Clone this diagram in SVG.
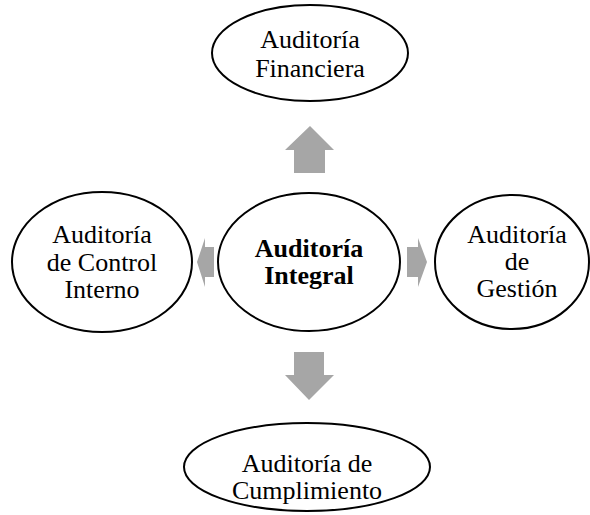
<svg xmlns="http://www.w3.org/2000/svg" width="590" height="515" viewBox="0 0 590 515" font-family="'Liberation Serif', 'Times New Roman', serif">
<style>
.node ellipse{fill:#fff;stroke:#000;stroke-width:2}
.node text{font-family:'Liberation Serif','Times New Roman',serif;font-size:26px;fill:#000;text-anchor:middle}
.node text.b{font-weight:bold}
.arrow{fill:#a6a6a6}
</style>
<rect width="590" height="515" fill="#fff"/>
<g id="connectors">
<polygon class="arrow" points="310,126 334,150 325,150 325,173 294,173 294,150 285,150"/>
<polygon class="arrow" points="309,400 334,375 324,375 324,352 294,352 294,375 285,375"/>
<polygon class="arrow" points="197,262 205,238 205,247 214,247 214,277 205,277 205,287"/>
<polygon class="arrow" points="427,262 418,238 418,247 407,247 407,277 418,277 418,287"/>
</g>
<g id="node-top" class="node">
<ellipse cx="310" cy="53" rx="98" ry="48"/>
<text x="310" y="48">Auditoría</text>
<text x="310" y="77">Financiera</text>
</g>
<g id="node-center" class="node">
<ellipse cx="309" cy="262" rx="91" ry="69"/>
<text class="b" x="309" y="257">Auditoría</text>
<text class="b" x="309" y="284">Integral</text>
</g>
<g id="node-left" class="node">
<ellipse cx="102" cy="262" rx="90" ry="70"/>
<text x="102" y="243">Auditoría</text>
<text x="102" y="271">de Control</text>
<text x="102" y="298">Interno</text>
</g>
<g id="node-right" class="node">
<ellipse cx="512" cy="262" rx="77" ry="67"/>
<text x="517" y="243">Auditoría</text>
<text x="517" y="270">de</text>
<text x="517" y="297">Gestión</text>
</g>
<g id="node-bottom" class="node">
<ellipse cx="307" cy="467" rx="123" ry="44"/>
<text x="307" y="472">Auditoría de</text>
<text x="307" y="499">Cumplimiento</text>
</g>
</svg>
